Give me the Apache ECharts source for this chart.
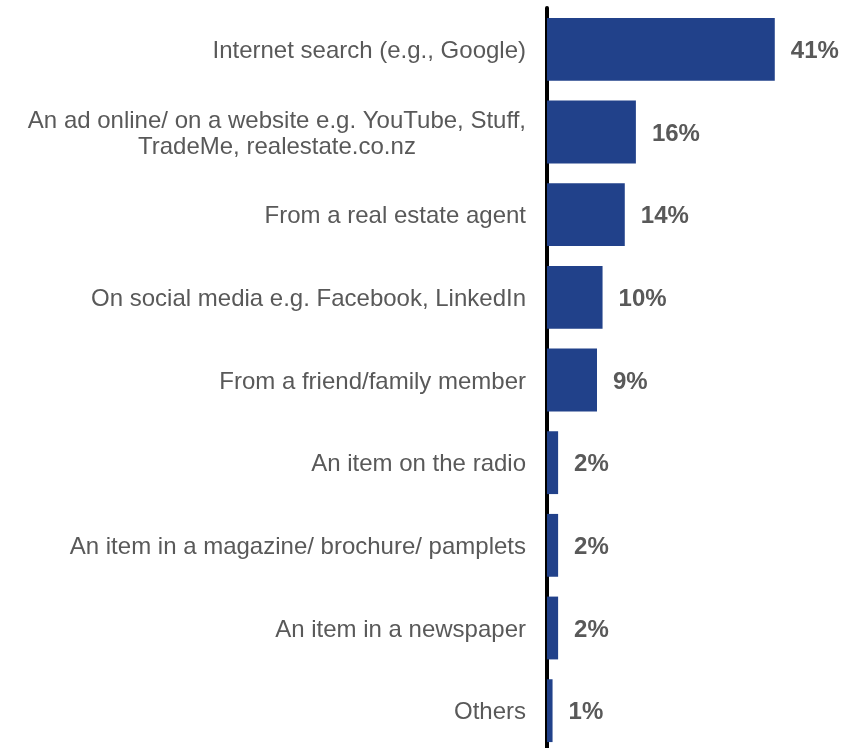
<!DOCTYPE html>
<html>
<head>
<meta charset="utf-8">
<style>
  html, body { margin: 0; padding: 0; background: #ffffff; overflow: hidden; }
  #chart { width: 846px; height: 756px; }
</style>
<script src="https://cdn.jsdelivr.net/npm/echarts@6/dist/echarts.min.js"></script>
</head>
<body>
<div id="chart"></div>
<script>
// Where people heard about it (share of respondents, %)
const categories = [
  'Internet search (e.g., Google)',
  'An ad online/ on a website e.g. YouTube, Stuff,\nTradeMe, realestate.co.nz',
  'From a real estate agent',
  'On social media e.g. Facebook, LinkedIn',
  'From a friend/family member',
  'An item on the radio',
  'An item in a magazine/ brochure/ pamplets',
  'An item in a newspaper',
  'Others'
];
const shares = [41, 16, 14, 10, 9, 2, 2, 2, 1];

const chart = echarts.init(document.getElementById('chart'), null, { renderer: 'canvas' });

chart.setOption({
  animation: false,
  backgroundColor: '#ffffff',
  grid: { left: 547, top: 8, width: 250, height: 744, containLabel: false },
  xAxis: {
    type: 'value',
    min: 0,
    max: 45,
    show: false
  },
  yAxis: {
    type: 'category',
    data: categories,
    inverse: true,
    axisLine: { show: true, lineStyle: { color: '#000000', width: 4 } },
    axisTick: { show: false },
    splitLine: { show: false },
    axisLabel: {
      margin: 21,
      padding: [4, 0, 0, 0],
      color: '#595959',
      fontFamily: 'Liberation Sans, Arial, sans-serif',
      fontSize: 24,
      lineHeight: 26,
      formatter: function (v) {
        return v.split('\n').map(function (line) { return '{c|' + line + '}'; }).join('\n');
      },
      rich: {
        c: {
          align: 'center',
          color: '#595959',
          fontFamily: 'Liberation Sans, Arial, sans-serif',
          fontSize: 24,
          lineHeight: 26
        }
      }
    }
  },
  series: [{
    type: 'bar',
    data: shares,
    barCategoryGap: '24%',
    itemStyle: { color: '#21418A' },
    z: 1,
    label: {
      show: true,
      position: 'right',
      distance: 16,
      offset: [0, 2],
      formatter: '{c}%',
      color: '#595959',
      fontFamily: 'Liberation Sans, Arial, sans-serif',
      fontSize: 24,
      fontWeight: 'bold'
    }
  }]
});
</script>
</body>
</html>
